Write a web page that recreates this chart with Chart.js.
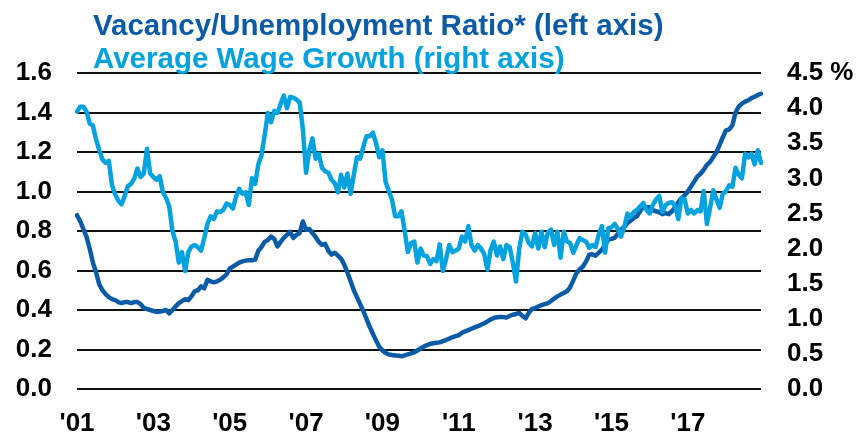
<!DOCTYPE html>
<html>
<head>
<meta charset="utf-8">
<title>Vacancy/Unemployment Ratio and Average Wage Growth</title>
<script src="https://cdn.jsdelivr.net/npm/chart.js@4.4.1/dist/chart.umd.min.js"></script>
<style>
  html, body { margin: 0; padding: 0; background: #ffffff; }
  #wrap { width: 862px; height: 436px; }
</style>
</head>
<body>
<div id="wrap"><canvas id="ratioChart" width="862" height="436"></canvas></div>
<script>
// Monthly data, Jan 2001 - Dec 2018
const startYear = 2001;
const endYear = 2018;
const xTickYears = [2001, 2003, 2005, 2007, 2009, 2011, 2013, 2015, 2017];

const titleLines = ['Vacancy/Unemployment Ratio* (left axis)', 'Average Wage Growth (right axis)'];

// Vacancy/Unemployment ratio (left axis)
const vuRatio = [
  0.88, 0.85, 0.81, 0.77, 0.71, 0.64, 0.59, 0.53, 0.50, 0.48, 0.465, 0.455,   // 2001
  0.45, 0.44, 0.435, 0.44, 0.44, 0.435, 0.44, 0.44, 0.43, 0.41, 0.405, 0.40,  // 2002
  0.395, 0.39, 0.392, 0.395, 0.40, 0.383, 0.40, 0.418, 0.435, 0.445, 0.455, 0.45, // 2003
  0.47, 0.495, 0.50, 0.52, 0.51, 0.553, 0.545, 0.54, 0.545, 0.553, 0.565, 0.58,  // 2004
  0.61, 0.62, 0.63, 0.64, 0.646, 0.65, 0.652, 0.652, 0.655, 0.70, 0.72, 0.745,  // 2005
  0.755, 0.772, 0.76, 0.722, 0.745, 0.765, 0.78, 0.795, 0.765, 0.78, 0.79, 0.848, // 2006
  0.806, 0.81, 0.79, 0.77, 0.745, 0.73, 0.735, 0.70, 0.68, 0.69, 0.675, 0.66,  // 2007
  0.63, 0.59, 0.545, 0.50, 0.465, 0.43, 0.395, 0.355, 0.315, 0.28, 0.245, 0.215, // 2008
  0.195, 0.183, 0.175, 0.172, 0.17, 0.168, 0.166, 0.17, 0.175, 0.18, 0.185, 0.195, // 2009
  0.205, 0.215, 0.222, 0.228, 0.232, 0.234, 0.236, 0.242, 0.248, 0.255, 0.262, 0.268, // 2010
  0.272, 0.285, 0.292, 0.298, 0.305, 0.312, 0.318, 0.325, 0.333, 0.342, 0.352, 0.36, // 2011
  0.363, 0.364, 0.364, 0.362, 0.37, 0.376, 0.38, 0.385, 0.37, 0.358, 0.385, 0.405, // 2012
  0.41, 0.418, 0.425, 0.43, 0.435, 0.445, 0.458, 0.469, 0.478, 0.486, 0.495, 0.515, // 2013
  0.55, 0.587, 0.605, 0.62, 0.645, 0.68, 0.682, 0.675, 0.69, 0.705, 0.73, 0.756, // 2014
  0.76, 0.765, 0.785, 0.806, 0.82, 0.84, 0.852, 0.865, 0.875, 0.90, 0.925, 0.92, // 2015
  0.92, 0.905, 0.90, 0.895, 0.885, 0.89, 0.885, 0.90, 0.92, 0.945, 0.967, 0.98,  // 2016
  1.0, 1.025, 1.05, 1.076, 1.09, 1.11, 1.135, 1.15, 1.175, 1.20, 1.236, 1.275,  // 2017
  1.31, 1.315, 1.335, 1.40, 1.43, 1.445, 1.455, 1.462, 1.473, 1.48, 1.489, 1.495 // 2018
];

// Average wage growth, % (right axis)
const wageGrowth = [
  3.95, 4.02, 4.02, 3.95, 3.78, 3.75, 3.55, 3.40, 3.27, 3.22, 3.25, 2.90,  // 2001
  2.77, 2.68, 2.63, 2.75, 2.89, 2.92, 3.00, 3.14, 3.02, 3.07, 3.42, 3.07,  // 2002
  3.02, 2.98, 3.03, 2.80, 2.72, 2.60, 2.25, 2.10, 1.80, 1.95, 1.68, 1.95,  // 2003
  2.03, 2.05, 2.02, 1.97, 2.15, 2.35, 2.46, 2.42, 2.53, 2.52, 2.55, 2.64,  // 2004
  2.62, 2.57, 2.74, 2.85, 2.78, 2.80, 2.62, 3.00, 2.92, 3.20, 3.33, 3.62,  // 2005
  3.93, 3.80, 3.96, 3.93, 4.06, 4.18, 4.00, 4.16, 4.15, 4.12, 4.08, 3.70,  // 2006
  3.08, 3.40, 3.57, 3.28, 3.35, 3.15, 3.10, 3.08, 2.98, 2.93, 2.80, 3.05,  // 2007
  2.87, 3.07, 2.78, 3.05, 3.30, 3.28, 3.45, 3.60, 3.60, 3.65, 3.50, 3.30,  // 2008
  3.40, 2.95, 2.82, 2.70, 2.46, 2.46, 2.53, 2.25, 1.95, 2.08, 2.10, 1.80,  // 2009
  2.00, 1.90, 1.89, 1.78, 1.85, 1.82, 2.06, 1.68, 1.85, 2.05, 1.95, 1.97,  // 2010
  2.00, 2.17, 2.10, 2.32, 2.05, 1.97, 2.05, 2.00, 1.92, 1.70, 1.98, 2.10,  // 2011
  1.90, 2.03, 1.85, 2.05, 2.02, 1.80, 1.53, 2.00, 2.24, 2.20, 2.08, 2.03,  // 2012
  2.22, 2.00, 2.24, 2.02, 2.23, 2.27, 2.05, 2.24, 1.87, 2.24, 2.10, 2.08,  // 2013
  1.94, 2.05, 2.15, 2.12, 2.10, 2.01, 2.05, 2.02, 2.20, 2.32, 1.94, 2.29,  // 2014
  2.30, 2.35, 2.28, 2.17, 2.30, 2.50, 2.45, 2.52, 2.55, 2.60, 2.65, 2.55,  // 2015
  2.50, 2.62, 2.70, 2.75, 2.52, 2.62, 2.65, 2.66, 2.60, 2.42, 2.72, 2.70,  // 2016
  2.50, 2.55, 2.50, 2.55, 2.53, 2.82, 2.35, 2.58, 2.83, 2.70, 2.58, 2.78,  // 2017
  2.82, 2.90, 2.88, 3.15, 3.05, 3.00, 3.35, 3.30, 3.35, 3.20, 3.40, 3.22   // 2018
];

const darkBlue = '#0B5BA6';
const lightBlue = '#05A2E0';
const fontFamily = "'Liberation Sans', Arial, Helvetica, sans-serif";

// month categories like "2001-01"
const months = [];
for (let y = startYear; y <= endYear; y++) {
    for (let m = 1; m <= 12; m++) {
        months.push(y + '-' + String(m).padStart(2, '0'));
    }
}

// Two coloured title lines, drawn on top of everything
const titlePlugin = {
    id: 'twoLineTitle',
    afterDraw(chart) {
        const ctx = chart.ctx;
        ctx.save();
        ctx.font = 'bold 29.5px ' + fontFamily;
        ctx.textAlign = 'left';
        ctx.textBaseline = 'alphabetic';
        ctx.fillStyle = darkBlue;
        ctx.fillText(titleLines[0], 93, 35);
        ctx.fillStyle = lightBlue;
        ctx.fillText(titleLines[1], 93, 68);
        ctx.restore();
    }
};

const tickFont = { family: fontFamily, size: 26, weight: 'bold' };

const ctx = document.getElementById('ratioChart').getContext('2d');
const chart = new Chart(ctx, {
    type: 'line',
    data: {
        labels: months,
        datasets: [
            {
                label: titleLines[1],
                data: wageGrowth,
                yAxisID: 'y1',
                borderColor: lightBlue,
                borderWidth: 4.5,
                pointRadius: 0,
                tension: 0,
                borderJoinStyle: 'round',
                borderCapStyle: 'round',
                fill: false
            },
            {
                label: titleLines[0],
                data: vuRatio,
                yAxisID: 'y',
                borderColor: darkBlue,
                borderWidth: 4.5,
                pointRadius: 0,
                tension: 0,
                borderJoinStyle: 'round',
                borderCapStyle: 'round',
                fill: false
            }
        ]
    },
    options: {
        responsive: false,
        animation: false,
        layout: { padding: { top: 73, left: 0, right: 0, bottom: 0 } },
        plugins: {
            legend: { display: false },
            tooltip: { enabled: false },
            title: { display: false }
        },
        scales: {
            x: {
                type: 'category',
                grid: { display: false },
                border: { display: false },
                ticks: {
                    autoSkip: false,
                    maxRotation: 0,
                    minRotation: 0,
                    padding: 11,
                    color: '#000',
                    font: tickFont,
                    callback: function(value, index) {
                        const parts = months[index].split('-');
                        if (parts[1] === '01' && xTickYears.includes(+parts[0])) {
                            return "'" + parts[0].slice(2);
                        }
                        return '';
                    }
                },
                afterFit: function(scale) { scale.height = 47; }
            },
            y: {
                position: 'left',
                min: 0,
                max: 1.6,
                grid: { color: '#111', lineWidth: 2, drawTicks: false },
                border: { display: false },
                ticks: {
                    stepSize: 0.2,
                    padding: 25,
                    color: '#000',
                    font: tickFont,
                    callback: v => v.toFixed(1)
                },
                afterFit: function(scale) { scale.width = 77; }
            },
            y1: {
                position: 'right',
                min: 0,
                max: 4.5,
                grid: { display: false, drawTicks: false },
                border: { display: false },
                ticks: {
                    stepSize: 0.5,
                    padding: 26,
                    color: '#000',
                    font: tickFont,
                    callback: v => (v === 4.5 ? '4.5 %' : v.toFixed(1))
                },
                afterFit: function(scale) { scale.width = 101; }
            }
        }
    },
    plugins: [titlePlugin]
});
</script>
</body>
</html>
